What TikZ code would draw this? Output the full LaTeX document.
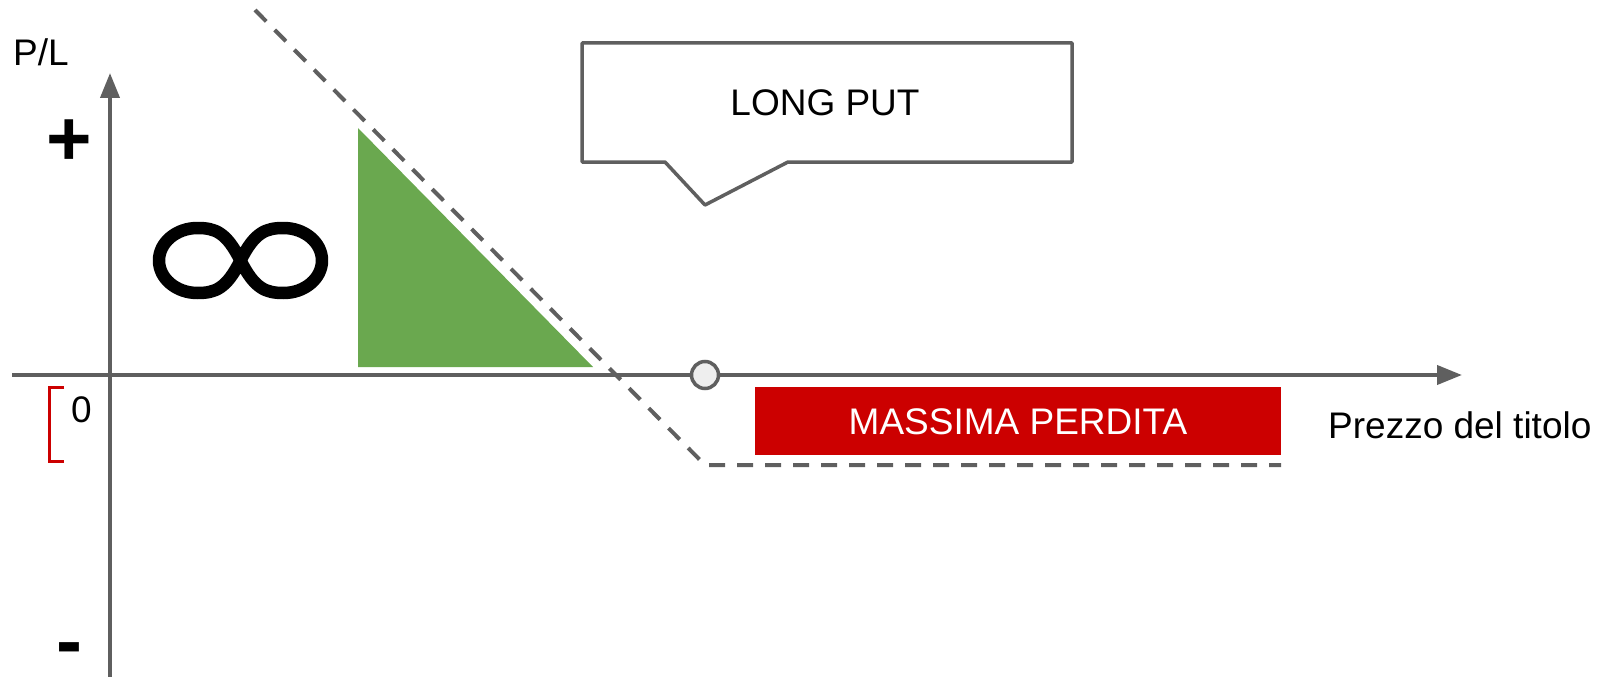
\documentclass[tikz,border=0pt]{standalone}
\usepackage{fontspec}
\setmainfont{Liberation Sans}
\usepackage{xcolor}
\usetikzlibrary{arrows.meta}
\definecolor{grisos}{HTML}{5F5F5F}
\definecolor{verdet}{HTML}{6AA84F}
\definecolor{vermell}{HTML}{CC0000}
\definecolor{grisclar}{HTML}{EEEEEE}

\begin{document}
\begin{tikzpicture}[x=1pt,y=-1pt,
	eix/.style={draw=grisos,line width=4pt,-{Triangle[length=25pt,width=19pt]}},
	guions/.style={draw=grisos,line width=4pt,dash pattern=on 16pt off 12pt},
	txt/.style={inner sep=0pt,font=\fontsize{37}{44}\selectfont},
	signe/.style={inner sep=0pt,font=\fontsize{78}{80}\selectfont\bfseries}]
	\useasboundingbox (0,0) rectangle (1610,677);
	% triangle verd
	\fill [verdet](358,128) -- (358,367) -- (593,367) -- cycle;
	% eixos
	\coordinate (ybaix) at (110,677);
	\coordinate (ydalt) at (110,73);
	\coordinate (xesq) at (12,375);
	\coordinate (xdre) at (1462,375);
	\draw [eix](ybaix) -- (ydalt);
	\draw [eix](xesq) -- (xdre);
	% linia discontinua
	\draw [guions](255,10) -- (705,465) -- (1281,465);
	% punt
	\draw [grisos,line width=3.5pt,fill=grisclar](705,375) circle (13.5pt);
	% infinit
	\begin{scope}[shift={(240.5,260.5)}]
		\draw [black,line width=12.5pt,line join=round](0,0) .. controls (14,28) and (25,32.5) .. (43,32.5)
			.. controls (64.3,32.5) and (81.5,17.9) .. (81.5,0)
			.. controls (81.5,-17.9) and (64.3,-32.5) .. (43,-32.5)
			.. controls (25,-32.5) and (14,-28) .. (0,0)
			.. controls (-14,28) and (-25,32.5) .. (-43,32.5)
			.. controls (-64.3,32.5) and (-81.5,17.9) .. (-81.5,0)
			.. controls (-81.5,-17.9) and (-64.3,-32.5) .. (-43,-32.5)
			.. controls (-25,-32.5) and (-14,-28) .. (0,0) -- cycle;
	\end{scope}
	% requadre vermell
	\fill [vermell](755,387) rectangle (1281,455);
	\node [txt,text=white,anchor=base] (perdua) at (1018,434) {MASSIMA PERDITA};
	% bafarada
	\draw [grisos,line width=3.5pt,fill=white,line join=round](582,43) -- (1072,43) -- (1072,162) -- (788,162)
		-- (705,205) -- (665,162) -- (582,162) -- cycle;
	\node [txt,anchor=base] (titol) at (825,115) {LONG PUT};
	% corxet
	\draw [vermell,line width=3pt](64,387) -- (49,387) -- (49,461) -- (64,461);
	% textos
	\node [txt,anchor=base west] (pl) at (13,66) {P/L};
	\node [txt,anchor=base west] (zero) at (71,422) {0};
	\node [txt,anchor=base west] (preu) at (1328,438) {Prezzo del titolo};
	\node [signe] (mes) at (69,143) {+};
	\node [signe] (menys) at (69,655) {-};
\end{tikzpicture}
\end{document}
